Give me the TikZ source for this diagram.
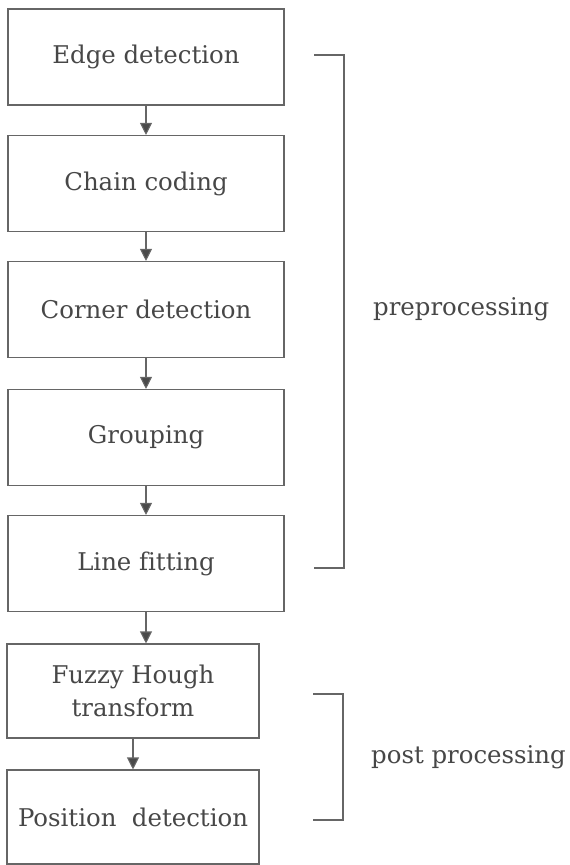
\documentclass[tikz,border=0pt]{standalone}
\usepackage{fontspec}
\setmainfont[Ligatures=NoCommon]{DejaVu Serif}
\usetikzlibrary{arrows.meta}
\definecolor{linec}{HTML}{666666}
\definecolor{textc}{HTML}{474747}
\definecolor{tipc}{HTML}{4A4A4A}
\begin{document}
\begin{tikzpicture}[x=1pt,y=-1pt,
  stage/.style={draw=linec, line width=1.1pt, text=textc, font=\fontsize{24.4}{33}\selectfont, align=center, inner sep=0pt},
  flow/.style={draw=linec, line width=1.1pt, -{Triangle[length=12pt,width=12pt,fill=tipc]}},
  brace/.style={draw=linec, line width=1.1pt},
  lab/.style={text=textc, font=\fontsize{24.4}{33}\selectfont, anchor=west, inner sep=0pt}]
\useasboundingbox (0,0) rectangle (570,865);
\node[stage, minimum width=276pt, minimum height=96pt] (b1) at (146,57) {Edge detection};
\node[stage, minimum width=276pt, minimum height=96pt] (b2) at (146,183.5) {Chain coding};
\node[stage, minimum width=276pt, minimum height=96pt] (b3) at (146,309.5) {Corner detection};
\node[stage, minimum width=276pt, minimum height=96pt] (b4) at (146,437.5) {Grouping};
\node[stage, minimum width=276pt, minimum height=96pt] (b5) at (146,563.5) {Line fitting};
\node[stage, minimum width=252pt, minimum height=94pt] (b6) at (133,691) {Fuzzy Hough\\transform};
\node[stage, minimum width=252pt, minimum height=94pt] (b7) at (133,817) {Position\ \ detection};
\draw[flow] (b1) -- (b2);
\draw[flow] (b2) -- (b3);
\draw[flow] (b3) -- (b4);
\draw[flow] (b4) -- (b5);
\draw[flow] (b5.south) -- (b5.south |- b6.north);
\draw[flow] (b6) -- (b7);
\coordinate (p1) at (314,55);
\coordinate (p2) at (344,55);
\coordinate (p3) at (344,568);
\coordinate (p4) at (314,568);
\draw[brace] (p1) -- (p2) -- (p3) -- (p4);
\node[lab] (pre) at (373,309) {preprocessing};
\coordinate (q1) at (313,694);
\coordinate (q2) at (343,694);
\coordinate (q3) at (343,820);
\coordinate (q4) at (313,820);
\draw[brace] (q1) -- (q2) -- (q3) -- (q4);
\node[lab] (post) at (371,757) {post processing};
\end{tikzpicture}
\end{document}
